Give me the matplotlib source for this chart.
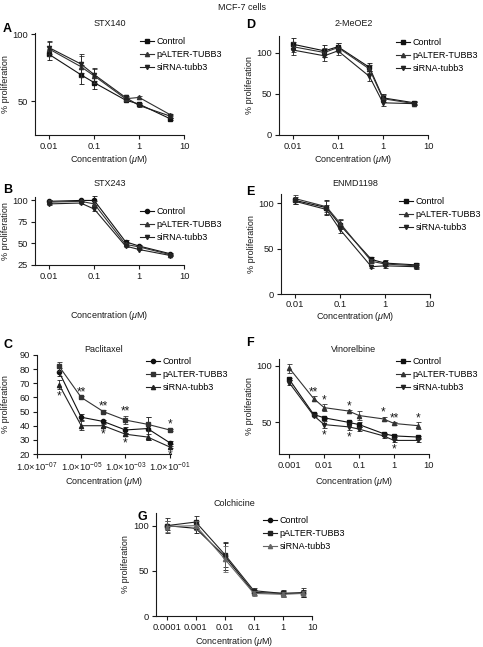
import matplotlib
matplotlib.use("Agg")
import matplotlib.pyplot as plt
from matplotlib.ticker import FixedLocator, NullLocator, FixedFormatter

plt.rcParams['font.family'] = ['Liberation Sans', 'DejaVu Sans']
plt.rcParams['mathtext.fontset'] = 'custom'
plt.rcParams['mathtext.rm'] = 'Liberation Sans'
plt.rcParams['mathtext.it'] = 'Liberation Sans:italic'
plt.rcParams['font.size'] = 6.5

# ---------------- data ----------------
series_names = ["Control", "pALTER-TUBB3", "siRNA-tubb3"]

# A: STX140
stx140_conc = [0.01, 0.05, 0.1, 0.5, 1, 5]
stx140_control = [85, 70, 64, 51, 48, 37]
stx140_palter = [89, 76, 69, 52, 53, 40]
stx140_sirna = [90, 78, 70, 53, 47, 39]
stx140_control_err = [4, 7, 5, 1, 1, 1]
stx140_palter_err = [5, 8, 5, 1, 1, 1]
stx140_sirna_err = [5, 7, 5, 1, 1, 1]

# D: 2-MeOE2
meoe2_conc = [0.01, 0.05, 0.1, 0.5, 1, 5]
meoe2_control = [110, 102, 107, 82, 45, 39]
meoe2_palter = [107, 100, 106, 80, 44, 38]
meoe2_sirna = [103, 96, 102, 71, 39, 38]
meoe2_control_err = [7, 7, 5, 5, 5, 2]
meoe2_palter_err = [6, 6, 5, 5, 4, 2]
meoe2_sirna_err = [6, 6, 5, 6, 4, 2]

# B: STX243
stx243_conc = [0.01, 0.05, 0.1, 0.5, 1, 5]
stx243_control = [99, 100, 100, 52, 47, 38]
stx243_palter = [98, 99, 96, 49, 46, 37]
stx243_sirna = [96, 97, 90, 47, 43, 36]
stx243_control_err = [2, 1, 5, 2, 1, 1]
stx243_palter_err = [2, 1, 3, 2, 1, 1]
stx243_sirna_err = [1, 1, 2, 1, 1, 1]

# E: ENMD1198
enmd_conc = [0.01, 0.05, 0.1, 0.5, 1, 5]
enmd_control = [103, 95, 76, 38, 34, 32]
enmd_palter = [105, 96, 78, 36, 33, 31]
enmd_sirna = [102, 93, 71, 30, 31, 30]
enmd_control_err = [4, 8, 5, 3, 3, 2]
enmd_palter_err = [4, 6, 4, 2, 2, 2]
enmd_sirna_err = [3, 5, 4, 1, 2, 2]

# C: Paclitaxel
pacli_conc = [1e-6, 1e-5, 1e-4, 1e-3, 1e-2, 1e-1]
pacli_control = [78, 46, 43, 37, 38, 28]
pacli_palter = [82, 60, 50, 44, 41, 37]
pacli_sirna = [69, 40, 40, 34, 32, 25]
pacli_control_err = [3, 2, 1, 2, 8, 1]
pacli_palter_err = [3, 1, 1, 3, 5, 1]
pacli_sirna_err = [3, 3, 1, 1, 2, 1]
pacli_stars_above = ["", "**", "**", "**", "", "*"]
pacli_stars_below = ["*", "", "*", "*", "", "*"]
pacli_xticks = [1e-7, 1e-5, 1e-3, 1e-1]
pacli_xticklabels = [r"1.0$\times$10$^{-07}$", r"1.0$\times$10$^{-05}$",
                     r"1.0$\times$10$^{-03}$", r"1.0$\times$10$^{-01}$"]

# F: Vinorelbine
vino_conc = [0.001, 0.005, 0.01, 0.05, 0.1, 0.5, 1, 5]
vino_control = [88, 57, 54, 50, 48, 40, 38, 37]
vino_palter = [98, 71, 63, 60, 56, 53, 49, 47]
vino_sirna = [85, 56, 48, 46, 44, 38, 34, 34]
vino_control_err = [1, 1, 1, 1, 2, 1, 1, 1]
vino_palter_err = [4, 2, 3, 1, 4, 2, 1, 3]
vino_sirna_err = [2, 1, 3, 3, 2, 2, 1, 1]
vino_stars_above = ["", "**", "*", "*", "", "*", "**", "*"]
vino_stars_below = ["", "", "*", "*", "", "", "*", ""]

# G: Colchicine
colch_conc = [0.0001, 0.001, 0.01, 0.1, 1, 5]
colch_control = [100, 97, 66, 26, 25, 25]
colch_palter = [100, 104, 68, 28, 25, 26]
colch_sirna = [99, 100, 63, 25, 24, 25]
colch_control_err = [5, 5, 15, 3, 3, 4]
colch_palter_err = [8, 7, 14, 3, 4, 5]
colch_sirna_err = [6, 5, 14, 3, 3, 3]

# ---------------- layout ----------------
W, H = 483, 647
fig = plt.figure(figsize=(W / 100, H / 100), dpi=100)
INK = "#1a1a1a"
FS = 6.5
TICK_FS = 6.7


def px_axes(l, t, r, b):
    return fig.add_axes([l / W, 1 - b / H, (r - l) / W, (b - t) / H])


def style(ax, xlim, ylim, yticks, xticks, xticklabels, xpad=2):
    ax.set_xscale("log")
    ax.set_xlim(*xlim)
    ax.set_ylim(*ylim)
    for s in ("top", "right"):
        ax.spines[s].set_visible(False)
    for s in ("left", "bottom"):
        ax.spines[s].set_linewidth(0.8)
        ax.spines[s].set_color(INK)
    ax.yaxis.set_major_locator(FixedLocator(yticks))
    ax.xaxis.set_major_locator(FixedLocator(xticks))
    ax.xaxis.set_major_formatter(FixedFormatter(xticklabels))
    ax.xaxis.set_minor_locator(NullLocator())
    ax.tick_params(axis="both", which="major", direction="out", length=3,
                   width=0.8, labelsize=TICK_FS, pad=2, colors=INK)
    ax.tick_params(axis="x", pad=xpad)


def plot_series(ax, x, ys, errs, markers, colors):
    for y, e, m, c, name in zip(ys, errs, markers, colors, series_names):
        ax.errorbar(x, y, yerr=e, fmt="none", ecolor=c, elinewidth=0.6,
                    capsize=1.8, capthick=0.6, clip_on=False)
        ax.plot(x, y, marker=m, markersize=3, color=c, lw=0.8, label=name,
                clip_on=False)


def add_legend(ax, x_px, y_px):
    ax.legend(loc="upper left", bbox_to_anchor=(x_px / W, 1 - y_px / H),
              bbox_transform=fig.transFigure, frameon=False, fontsize=FS,
              handlelength=1.5, handletextpad=0.35, labelspacing=0.45,
              borderpad=0, borderaxespad=0, markerscale=1.0)


def decorate(ax, title, letter, letter_xy, title_y, ylab_x, xlabel_y=None):
    pos = ax.get_position()
    cx = (pos.x0 + pos.x1) / 2
    fig.text(cx, 1 - title_y / H, title, ha="center", va="center", fontsize=FS, color=INK)
    fig.text(letter_xy[0] / W, 1 - letter_xy[1] / H, letter, ha="left", va="center",
             fontsize=9, fontweight="bold", color="black")
    cy = (pos.y0 + pos.y1) / 2
    fig.text(ylab_x / W, cy, "% proliferation", rotation=90, ha="center",
             va="center", fontsize=FS, color=INK)
    if xlabel_y is not None:
        fig.text(cx, 1 - xlabel_y / H, r"Concentration ($\mu$M)", ha="center",
                 va="center", fontsize=FS, color=INK)


def stars(ax, x, ya, yb, sa, sb, ea, eb):
    for xi, a, b, s1, s2, e1, e2 in zip(x, ya, yb, sa, sb, ea, eb):
        if s1:
            ax.annotate(s1, (xi, a + e1), xytext=(0, -1.5), textcoords="offset points",
                        ha="center", va="bottom", fontsize=8.5, color=INK)
        if s2:
            ax.annotate(s2, (xi, b - e2), xytext=(0, -1.0), textcoords="offset points",
                        ha="center", va="top", fontsize=8.5, color=INK)


dec_ticks = [0.01, 0.1, 1, 10]
dec_labels = ["0.01", "0.1", "1", "10"]
k = ["#111111", "#333333", "#222222"]

fig.text(0.5, 1 - 8 / H, "MCF-7 cells", ha="center", va="center", fontsize=FS, color=INK)

# A
axA = px_axes(35, 33, 184, 135)
style(axA, (0.0048, 10), (25, 101), [50, 100], dec_ticks, dec_labels)
plot_series(axA, stx140_conc, [stx140_control, stx140_palter, stx140_sirna],
            [stx140_control_err, stx140_palter_err, stx140_sirna_err], ["s", "^", "v"], k)
add_legend(axA, 140, 37)
decorate(axA, "STX140", "A", (3, 29), 23, 6, 159)

# D
axD = px_axes(279, 36, 428, 135)
style(axD, (0.0049, 10), (0, 120), [0, 50, 100], dec_ticks, dec_labels)
plot_series(axD, meoe2_conc, [meoe2_control, meoe2_palter, meoe2_sirna],
            [meoe2_control_err, meoe2_palter_err, meoe2_sirna_err], ["s", "^", "v"], k)
add_legend(axD, 396, 38)
decorate(axD, "2-MeOE2", "D", (246, 25), 23, 250, 159)

# B
axB = px_axes(35, 197, 184, 265)
style(axB, (0.0048, 10), (25, 104), [25, 50, 75, 100], dec_ticks, dec_labels)
plot_series(axB, stx243_conc, [stx243_control, stx243_palter, stx243_sirna],
            [stx243_control_err, stx243_palter_err, stx243_sirna_err], ["o", "^", "v"], k)
add_legend(axB, 140, 207)
decorate(axB, "STX243", "B", (3, 190), 183, 6, 315)

# E
axE = px_axes(281, 194, 430, 294)
style(axE, (0.0049, 10), (0, 110), [0, 50, 100], dec_ticks, dec_labels, xpad=1)
plot_series(axE, enmd_conc, [enmd_control, enmd_palter, enmd_sirna],
            [enmd_control_err, enmd_palter_err, enmd_sirna_err], ["s", "^", "v"], k)
add_legend(axE, 399, 197)
decorate(axE, "ENMD1198", "E", (246, 192), 183, 252, 316)

# C
axC = px_axes(37, 355, 171, 454)
style(axC, (1e-7, 1.15e-1), (20, 90), list(range(20, 91, 10)), pacli_xticks, pacli_xticklabels)
plot_series(axC, pacli_conc, [pacli_control, pacli_palter, pacli_sirna],
            [pacli_control_err, pacli_palter_err, pacli_sirna_err], ["o", "s", "^"], k)
stars(axC, pacli_conc, pacli_palter, pacli_sirna, pacli_stars_above,
      pacli_stars_below, pacli_palter_err, pacli_sirna_err)
add_legend(axC, 146, 357)
decorate(axC, "Paclitaxel", "C", (3, 345), 350, 6, 481)

# F
axF = px_axes(279, 359, 429, 454)
style(axF, (0.00051, 10), (22, 106), [50, 100], [0.001, 0.01, 0.1, 1, 10],
      ["0.001", "0.01", "0.1", "1", "10"])
plot_series(axF, vino_conc, [vino_control, vino_palter, vino_sirna],
            [vino_control_err, vino_palter_err, vino_sirna_err], ["s", "^", "v"], k)
stars(axF, vino_conc, vino_palter, vino_sirna, vino_stars_above,
      vino_stars_below, vino_palter_err, vino_sirna_err)
add_legend(axF, 396, 357)
decorate(axF, "Vinorelbine", "F", (246, 343), 350, 250, 481)

# G
axG = px_axes(156, 513, 312, 616)
style(axG, (0.0000427, 10), (0, 114), [0, 50, 100], [0.0001, 0.001, 0.01, 0.1, 1, 10],
      ["0.0001", "0.001", "0.01", "0.1", "1", "10"])
plot_series(axG, colch_conc, [colch_control, colch_palter, colch_sirna],
            [colch_control_err, colch_palter_err, colch_sirna_err], ["o", "s", "^"],
            ["#111111", "#222222", "#666666"])
add_legend(axG, 263, 516)
decorate(axG, "Colchicine", "G", (137, 517), 503, 125, 641)

fig.savefig("out.png", dpi=100)
